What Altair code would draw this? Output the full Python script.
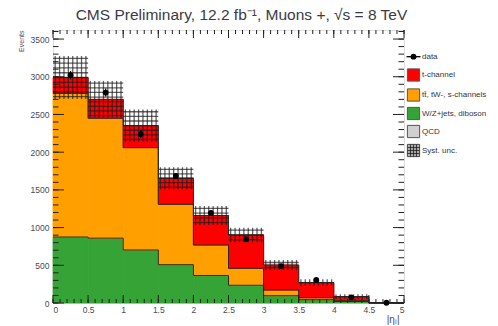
import altair as alt
import pandas as pd
import numpy as np

# ---------------- data ----------------
bin_lo = [0.0, 0.5, 1.0, 1.5, 2.0, 2.5, 3.0, 3.5, 4.0, 4.5]
bin_width = 0.5
wzjets = [875, 860, 703, 508, 365, 235, 97, 44, 20, 1]
qcd = [0, 0, 0, 0, 0, 0, 0, 0, 0, 0]
ttbar = [1905, 1590, 1357, 801, 404, 225, 75, 26, 10, 1]
tchannel = [210, 250, 292, 345, 391, 442, 332, 200, 54, 1]
syst_unc = [285, 245, 215, 146, 125, 95, 66, 44, 31, 3]
data_counts = [3020, 2790, 2240, 1684, 1195, 845, 490, 305, 75, 3]

x_major = [0, 0.5, 1, 1.5, 2, 2.5, 3, 3.5, 4, 4.5, 5]
x_minor = [round(0.1 * i, 1) for i in range(51)]
y_major = [0, 500, 1000, 1500, 2000, 2500, 3000, 3500]
y_minor = [100 * i for i in range(37)]

comp_names = ["W/Z+jets, diboson", "QCD", "tt\u0304, tW-, s-channels", "t-channel"]
comp_colors = ["#36a336", "#d0d0d0", "#ffa000", "#ff0000"]
legend_labels = ["data", "t-channel", "tt\u0304, tW-, s-channels", "W/Z+jets, diboson", "QCD", "Syst. unc."]

FONT = "Liberation Sans"
W, H = 351, 273
YMAX = 3620

# ---------------- derived tables ----------------
series = [wzjets, qcd, ttbar, tchannel]
rows = []
base = np.zeros(len(bin_lo))
levels = []
for name, vals in zip(comp_names, series):
    v = np.array(vals, dtype=float)
    for i, lo in enumerate(bin_lo):
        rows.append({"comp": name, "lo": lo, "hi": lo + bin_width,
                     "y0": base[i], "y1": base[i] + v[i]})
    base = base + v
    levels.append(base.copy())
stack_df = pd.DataFrame(rows)
stack_df = stack_df[stack_df.y1 > stack_df.y0]

total = levels[-1]

# step outlines
out_rows = []
for k, lev in enumerate([levels[0], levels[2], levels[3]]):
    for i, lo in enumerate(bin_lo):
        out_rows.append({"lvl": k, "x": lo, "y": lev[i]})
    out_rows.append({"lvl": k, "x": bin_lo[-1] + bin_width, "y": 0.0})
outline_df = pd.DataFrame(out_rows)

# grid hatch of the systematic band
hv_rows, hh_rows = [], []
ystep = 62.0
ncol = 8
for i, lo in enumerate(bin_lo):
    lo_b = total[i] - syst_unc[i]
    hi_b = total[i] + syst_unc[i]
    for j in range(ncol):
        hv_rows.append({"x": lo + (j + 0.5) * bin_width / ncol, "y0": lo_b, "y1": hi_b})
    n = max(1, int(round((hi_b - lo_b) / ystep)))
    dy = (hi_b - lo_b) / n
    for k in range(n):
        hh_rows.append({"x0": lo, "x1": lo + bin_width, "y": lo_b + (k + 0.5) * dy})
hv_df = pd.DataFrame(hv_rows)
hh_df = pd.DataFrame(hh_rows)

data_df = pd.DataFrame({
    "x": [lo + bin_width / 2 for lo in bin_lo],
    "n": data_counts,
})
data_df["elo"] = np.maximum(data_df.n - np.sqrt(data_df.n), 0)
data_df["ehi"] = data_df.n + np.sqrt(data_df.n)

xs = alt.Scale(domain=[0, 5], nice=False, zero=False)
ys = alt.Scale(domain=[0, YMAX], nice=False)
cscale = alt.Scale(domain=comp_names, range=comp_colors)

# ---------------- layers ----------------
stack = alt.Chart(stack_df).mark_rect(strokeWidth=0.8).encode(
    x=alt.X("lo:Q", scale=xs, axis=alt.Axis(
        orient="bottom",
        values=x_major, format="~g", ticks=False, domain=False, grid=False,
        labelFont=FONT, labelFontSize=8.5, labelColor="#4a4a5a", labelPadding=2,
        title="|\u03b7\u2097|", titleFont=FONT, titleFontSize=10, titleFontWeight="normal",
        titleColor="#4a4a6a", titleAnchor="end", titleAlign="right", titleX=W - 5,
        titleY=19, titleBaseline="alphabetic")),
    x2="hi:Q",
    y=alt.Y("y0:Q", scale=ys, axis=alt.Axis(
        orient="left",
        values=y_major, format="d", ticks=False, domain=False, grid=False,
        labelFont=FONT, labelFontSize=8.5, labelColor="#4a4a5a", labelPadding=4,
        title="Events", titleFont=FONT, titleFontSize=7, titleFontWeight="normal",
        titleColor="#6a4a5a", titleAngle=270, titleAlign="right", titleX=-30, titleY=0,
        titleBaseline="alphabetic")),
    y2="y1:Q",
    color=alt.Color("comp:N", scale=cscale, legend=None),
    stroke=alt.Stroke("comp:N", scale=cscale, legend=None),
)

outline = alt.Chart(outline_df).mark_line(interpolate="step-after", color="#2a2a2a", strokeWidth=1).encode(
    x=alt.X("x:Q", scale=xs, axis=None),
    y=alt.Y("y:Q", scale=ys, axis=None),
    detail="lvl:N",
)

hatch_v = alt.Chart(hv_df).mark_rule(color="#1e1e1e", strokeWidth=1.3, opacity=0.7).encode(
    x=alt.X("x:Q", scale=xs, axis=None),
    y=alt.Y("y0:Q", scale=ys, axis=None),
    y2="y1:Q",
)
hatch_h = alt.Chart(hh_df).mark_rule(color="#1e1e1e", strokeWidth=1.3, opacity=0.7).encode(
    x=alt.X("x0:Q", scale=xs, axis=None),
    x2="x1:Q",
    y=alt.Y("y:Q", scale=ys, axis=None),
)

err = alt.Chart(data_df).mark_rule(color="black", strokeWidth=1.3).encode(
    x=alt.X("x:Q", scale=xs, axis=None),
    y=alt.Y("elo:Q", scale=ys, axis=None),
    y2="ehi:Q",
)
pts = alt.Chart(data_df).mark_circle(color="black", size=34, opacity=1).encode(
    x=alt.X("x:Q", scale=xs, axis=None),
    y=alt.Y("n:Q", scale=ys, axis=None),
)

tick_col = "#222222"
def xticks(vals, L):
    df = pd.DataFrame({"v": vals})
    b = alt.Chart(df).mark_rule(color=tick_col, strokeWidth=1).encode(
        x=alt.X("v:Q", scale=xs, axis=None), y=alt.value(H), y2=alt.value(H - L))
    t = alt.Chart(df).mark_rule(color=tick_col, strokeWidth=1).encode(
        x=alt.X("v:Q", scale=xs, axis=None), y=alt.value(0), y2=alt.value(L))
    return [b, t]

def yticks(vals, L):
    df = pd.DataFrame({"v": vals})
    l = alt.Chart(df).mark_rule(color=tick_col, strokeWidth=1).encode(
        y=alt.Y("v:Q", scale=ys, axis=None), x=alt.value(0), x2=alt.value(L))
    r = alt.Chart(df).mark_rule(color=tick_col, strokeWidth=1).encode(
        y=alt.Y("v:Q", scale=ys, axis=None), x=alt.value(W), x2=alt.value(W - L))
    return [l, r]

ticks = xticks(x_major, 8) + xticks(x_minor, 4) + yticks(y_major, 11) + yticks(y_minor, 5.5)

# ---------------- manual legend ----------------
one = pd.DataFrame({"a": [0]})
LX = 360.5
leg_y = [26.7, 45, 65, 83.5, 101.5, 120.5]
legend_layers = []
legend_layers.append(alt.Chart(one).mark_rule(color="black", strokeWidth=1.3).encode(
    x=alt.value(LX - 7), x2=alt.value(LX + 7), y=alt.value(leg_y[0])))
legend_layers.append(alt.Chart(one).mark_circle(color="black", size=34, opacity=1).encode(
    x=alt.value(LX), y=alt.value(leg_y[0])))
box_cols = ["#ff0000", "#ffa000", "#36a336", "#d0d0d0"]
for c, yy in zip(box_cols, leg_y[1:5]):
    legend_layers.append(alt.Chart(one).mark_square(
        size=150, fill=c, fillOpacity=1, stroke="#555555", strokeWidth=1).encode(
        x=alt.value(LX), y=alt.value(yy)))
legend_layers.append(alt.Chart(one).mark_square(
    size=150, fill="#bdbdbd", fillOpacity=1, stroke="#444444", strokeWidth=1).encode(
    x=alt.value(LX), y=alt.value(leg_y[5])))
for d in (-3, 0, 3):
    legend_layers.append(alt.Chart(one).mark_rule(color="#1e1e1e", strokeWidth=1.2, opacity=0.8).encode(
        x=alt.value(LX + d), y=alt.value(leg_y[5] - 6), y2=alt.value(leg_y[5] + 6)))
    legend_layers.append(alt.Chart(one).mark_rule(color="#1e1e1e", strokeWidth=1.2, opacity=0.8).encode(
        x=alt.value(LX - 6), x2=alt.value(LX + 6), y=alt.value(leg_y[5] + d)))
for lab, yy in zip(legend_labels, leg_y):
    legend_layers.append(alt.Chart(one).mark_text(
        text=lab, font=FONT, fontSize=8, color="#333344", align="left",
        baseline="middle").encode(x=alt.value(LX + 8.5), y=alt.value(yy)))

chart = alt.layer(stack, outline, hatch_v, hatch_h, err, pts, *ticks, *legend_layers).resolve_axis(
    x="independent", y="independent"
).properties(
    width=W, height=H,
    autosize=alt.AutoSizeParams(type="none"),
    padding={"left": 53, "top": 30, "right": 94, "bottom": 23},
    title=alt.TitleParams(
        "CMS Preliminary, 12.2 fb\u207b\u00b9, Muons +, \u221as = 8 TeV",
        font=FONT, fontSize=15.5, fontWeight="normal", color="#3a3a44",
        anchor="middle", dx=13, offset=6),
).configure_view(stroke="#222222", strokeWidth=1).configure(background="white")

chart.save("out.html", embed_options={"renderer": "svg", "actions": False})
